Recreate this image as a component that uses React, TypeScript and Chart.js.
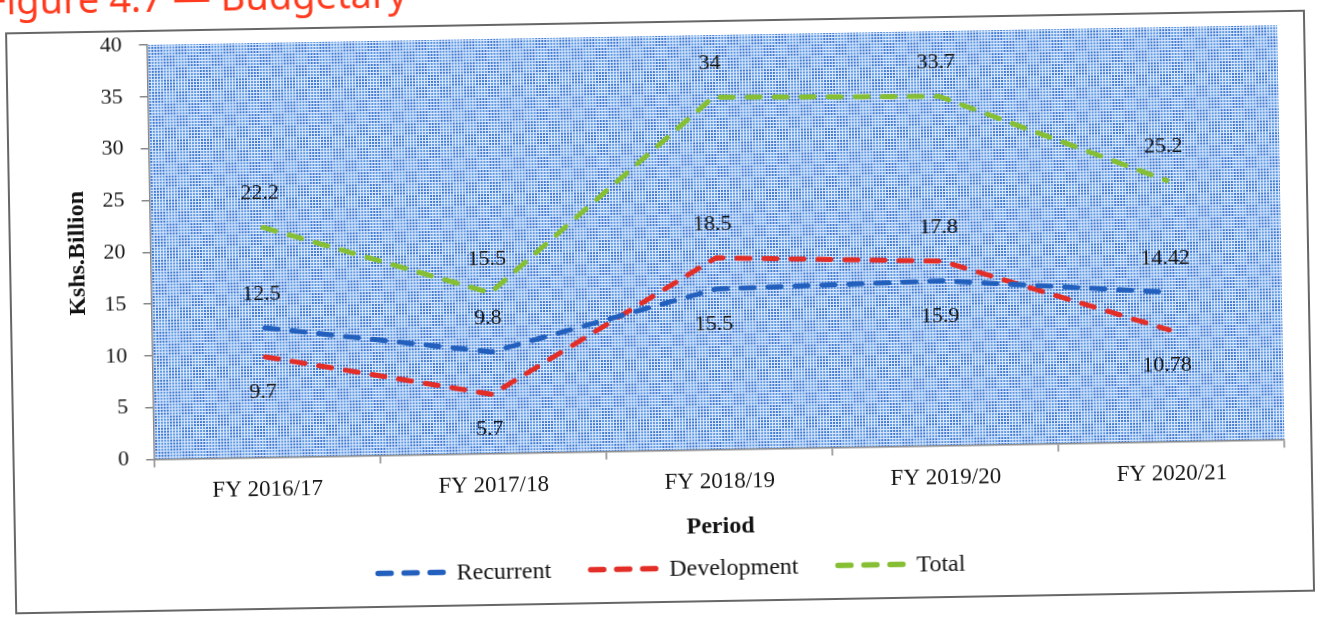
import React, { useEffect, useRef } from 'react';
import { Chart, registerables } from 'chart.js';

Chart.register(...registerables);

// ---- data ----
const categories = ['FY 2016/17', 'FY 2017/18', 'FY 2018/19', 'FY 2019/20', 'FY 2020/21'];
const recurrent = [12.5, 9.8, 15.5, 15.9, 14.42];
const development = [9.7, 5.7, 18.5, 17.8, 10.78];
const total = [22.2, 15.5, 34, 33.7, 25.2];
const recurrentSide = ['above', 'above', 'below', 'below', 'above'];
const developmentSide = ['below', 'below', 'above', 'above', 'below'];
const totalSide = ['above', 'above', 'above', 'above', 'above'];
const yMin = 0;
const yMax = 40;
const yStep = 5;

const SERIF = '"Liberation Serif", "Times New Roman", serif';
const sides = [recurrentSide, developmentSide, totalSide];

function makePattern(ctx: CanvasRenderingContext2D) {
  const c = document.createElement('canvas');
  c.width = 24;
  c.height = 24;
  const g = c.getContext('2d')!;
  g.fillStyle = '#dde9fb';
  g.fillRect(0, 0, 24, 24);
  for (let i = 0; i < 8; i++) {
    for (let j = 0; j < 8; j++) {
      const block = (Math.floor(i / 4) + Math.floor(j / 4)) % 2;
      g.fillStyle = block ? '#3f7bd5' : '#609ae4';
      g.fillRect(i * 3, j * 3, 2, 2);
    }
  }
  return ctx.createPattern(c, 'repeat');
}

const areaPlugin = {
  id: 'areaPattern',
  beforeDraw(chart: any) {
    const { ctx, chartArea } = chart;
    const pat = makePattern(ctx);
    ctx.save();
    ctx.fillStyle = pat || '#8eb1e8';
    ctx.fillRect(chartArea.left, chartArea.top, chartArea.right - chartArea.left, chartArea.bottom - chartArea.top);
    ctx.restore();
  },
};

const labelPlugin = {
  id: 'valueLabels',
  afterDatasetsDraw(chart: any) {
    const ctx = chart.ctx;
    ctx.save();
    ctx.font = `22px ${SERIF}`;
    ctx.fillStyle = '#151515';
    ctx.textAlign = 'center';
    ctx.textBaseline = 'middle';
    chart.data.datasets.forEach((ds: any, i: number) => {
      const meta = chart.getDatasetMeta(i);
      meta.data.forEach((pt: any, j: number) => {
        const off = sides[i][j] === 'above' ? -34 : 35;
        ctx.fillText(String(ds.data[j]), pt.x - 3, pt.y + off);
      });
    });
    ctx.restore();
  },
};

const legendPlugin = {
  id: 'dashLegend',
  afterDraw(chart: any) {
    const ctx = chart.ctx;
    const y = 545.5;
    const sample = 71;
    const gapText = 10;
    const gapItem = 37;
    ctx.save();
    ctx.font = `24px ${SERIF}`;
    const items = chart.data.datasets.map((ds: any) => ({
      label: ds.label,
      color: ds.borderColor,
      w: ctx.measureText(ds.label).width,
    }));
    const totalW =
      items.reduce((s: number, it: any) => s + sample + gapText + it.w, 0) + gapItem * (items.length - 1);
    let x = chart.width / 2 + 6 - totalW / 2;
    items.forEach((it: any) => {
      ctx.beginPath();
      ctx.strokeStyle = it.color;
      ctx.lineWidth = 5.5;
      ctx.lineCap = 'round';
      ctx.setLineDash([13, 13]);
      ctx.moveTo(x + 2.5, y);
      ctx.lineTo(x + sample - 2.5, y);
      ctx.stroke();
      ctx.setLineDash([]);
      ctx.fillStyle = '#151515';
      ctx.textAlign = 'left';
      ctx.textBaseline = 'middle';
      ctx.fillText(it.label, x + sample + gapText, y + 1);
      x += sample + gapText + it.w + gapItem;
    });
    ctx.restore();
  },
};

function lineDs(label: string, data: number[], color: string) {
  return {
    label,
    data,
    borderColor: color,
    backgroundColor: color,
    borderWidth: 5,
    borderDash: [13, 14],
    borderCapStyle: 'round' as const,
    borderJoinStyle: 'round' as const,
    pointRadius: 0,
    pointHoverRadius: 0,
    tension: 0,
    fill: false,
  };
}

export default function App() {
  const ref = useRef<HTMLCanvasElement | null>(null);

  useEffect(() => {
    document.body.style.overflow = 'hidden';
    if (!ref.current) return;
    const chart = new Chart(ref.current, {
      type: 'line',
      data: {
        labels: categories,
        datasets: [
          lineDs('Recurrent', recurrent, '#2360be'),
          lineDs('Development', development, '#e32d27'),
          lineDs('Total', total, '#86bf34'),
        ],
      },
      options: {
        responsive: false,
        animation: false,
        layout: { padding: { top: 13, right: 26, bottom: 58.9, left: 0 } },
        plugins: {
          legend: { display: false },
          tooltip: { enabled: false },
        },
        scales: {
          x: {
            type: 'category',
            offset: true,
            grid: { drawOnChartArea: false, drawTicks: true, tickLength: 8, color: '#888', lineWidth: 1.5, offset: true },
            border: { display: true, color: '#888', width: 1.5 },
            ticks: {
              font: { family: SERIF, size: 23 },
              color: '#151515',
              padding: 11,
              maxRotation: 0,
              autoSkip: false,
            },
            title: {
              display: true,
              text: 'Period',
              font: { family: SERIF, size: 24, weight: 'bold' },
              color: '#111',
              padding: { top: 0, bottom: 0 },
            },
            afterFit: (s: any) => {
              s.height = 91.6;
            },
          },
          y: {
            min: yMin,
            max: yMax,
            ticks: {
              stepSize: yStep,
              padding: 17,
              font: { family: SERIF, size: 22 },
              color: '#151515',
            },
            grid: { drawOnChartArea: false, drawTicks: true, tickLength: 8, color: '#888', lineWidth: 1.5 },
            border: { display: true, color: '#888', width: 1.5 },
            title: {
              display: true,
              text: 'Kshs.Billion',
              font: { family: SERIF, size: 24, weight: 'bold' },
              color: '#111',
              padding: { top: 52.6, bottom: 0 },
            },
            afterFit: (s: any) => {
              s.width = 139.6;
              s.paddingTop = 0;
              s.paddingBottom = 0;
            },
          },
        },
      } as any,
      plugins: [areaPlugin, labelPlugin, legendPlugin],
    });
    return () => chart.destroy();
  }, []);

  return (
    <div
      style={{
        position: 'fixed',
        left: 0,
        top: 0,
        width: 1322,
        height: 618,
        background: '#fff',
        transform: 'rotate(-1deg)',
        transformOrigin: '661px 309px',
      }}
    >
      <div
        style={{
          position: 'absolute',
          left: -8,
          top: -37,
          fontFamily: '"Noto Sans", sans-serif',
          fontSize: 38,
          lineHeight: '50px',
          color: '#ff3b1f',
          whiteSpace: 'pre',
        }}
      >
        Figure 4.7 — Budgetary
      </div>
      <div
        style={{
          position: 'absolute',
          left: 10,
          top: 21,
          width: 1300,
          height: 582,
          border: '2px solid #666',
          boxSizing: 'border-box',
          background: '#fff',
        }}
      >
        <canvas ref={ref} width={1296} height={578} style={{ display: 'block', width: 1296, height: 578 }} />
      </div>
    </div>
  );
}
